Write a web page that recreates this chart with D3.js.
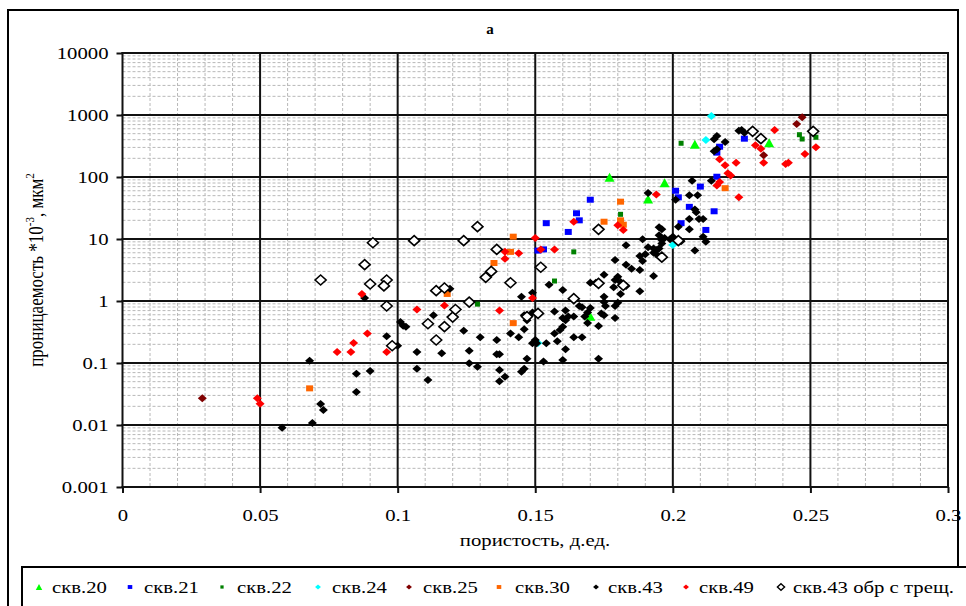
<!DOCTYPE html>
<html>
<head>
<meta charset="utf-8">
<script src="https://cdn.jsdelivr.net/npm/d3@7"></script>
<style>
  body { margin: 0; background: #fff; }
  svg { display: block; font-family: "Liberation Serif", "Times New Roman", serif; }
</style>
</head>
<body>
<svg id="chart" width="966" height="606"></svg>
<script>
// ---- axis ticks ----
const porosityTicks = [0, 0.05, 0.1, 0.15, 0.2, 0.25, 0.3];
const porosityTickLabels = ["0", "0.05", "0.1", "0.15", "0.2", "0.25", "0.3"];
const permTicks = [0.001, 0.01, 0.1, 1, 10, 100, 1000, 10000];
const permTickLabels = ["0.001", "0.01", "0.1", "1", "10", "100", "1000", "10000"];

// ---- wells: [porosity, permeability] ----
const skv20 = [[0.177, 99], [0.197, 81], [0.191, 44], [0.208, 337], [0.235, 357], [0.170, 0.57]];

const skv21 = [[0.170, 43], [0.165, 26], [0.166, 20], [0.154, 18], [0.162, 13], [0.151, 6.5], [0.153, 6.8],
  [0.201, 60], [0.202, 47], [0.203, 18], [0.210, 70], [0.206, 33], [0.215, 28], [0.212, 14],
  [0.226, 415], [0.217, 308], [0.216, 247], [0.216, 101]];

const skv22 = [[0.203, 350], [0.181, 25], [0.164, 6.2], [0.157, 2.1], [0.129, 0.89],
  [0.246, 481], [0.247, 410], [0.252, 437]];

const skv24 = [[0.214, 964], [0.212, 395], [0.200, 8.0], [0.151, 0.21]];

const skv25 = [[0.029, 0.027], [0.247, 918], [0.245, 716], [0.233, 224]];

const skv30 = [[0.135, 4.1], [0.118, 1.3], [0.068, 0.039], [0.181, 40], [0.175, 19], [0.181, 20],
  [0.182, 17], [0.142, 10.9], [0.141, 6.2], [0.142, 0.44], [0.219, 66]];

const skv43 = [
  [0.058, 0.0090], [0.068, 0.109], [0.069, 0.0108], [0.072, 0.0218], [0.073, 0.0175],
  [0.085, 0.067], [0.085, 0.034], [0.090, 0.074], [0.088, 1.12],
  [0.096, 0.27], [0.100, 0.19], [0.101, 0.46], [0.102, 0.40], [0.103, 0.385],
  [0.107, 0.150], [0.107, 0.081], [0.111, 0.053], [0.113, 0.59], [0.116, 0.143],
  [0.119, 1.58], [0.124, 0.33], [0.126, 0.158], [0.126, 0.099], [0.129, 0.087],
  [0.130, 0.26], [0.136, 0.235], [0.136, 0.138], [0.137, 0.138], [0.137, 0.077], [0.137, 0.051], [0.139, 0.060],
  [0.141, 0.30], [0.144, 0.26], [0.146, 0.35], [0.147, 0.49], [0.145, 1.17], [0.149, 1.36],
  [0.149, 0.65], [0.146, 0.59],
  [0.150, 0.235], [0.149, 0.208], [0.1505, 0.208], [0.154, 0.208], [0.158, 0.224], [0.157, 0.30],
  [0.159, 0.34], [0.160, 0.385], [0.161, 0.49],
  [0.147, 0.117], [0.153, 0.106], [0.160, 0.112], [0.161, 0.166], [0.146, 0.081], [0.145, 0.072],
  [0.173, 0.117],
  [0.155, 1.83], [0.160, 1.50], [0.157, 0.68], [0.161, 0.70], [0.160, 0.53], [0.162, 0.56], [0.164, 0.56],
  [0.164, 0.26], [0.167, 0.26],
  [0.166, 0.83], [0.167, 0.79], [0.170, 0.77], [0.169, 0.65], [0.168, 0.56], [0.169, 0.44], [0.173, 0.395],
  [0.170, 1.97], [0.172, 1.97],
  [0.174, 0.63], [0.175, 0.59], [0.175, 0.96], [0.1755, 0.83], [0.179, 0.83], [0.179, 0.53], [0.180, 0.94],
  [0.175, 1.17], [0.175, 2.66],
  [0.179, 4.6], [0.180, 2.47], [0.179, 2.18], [0.1785, 1.66], [0.181, 1.30], [0.181, 2.03], [0.183, 1.75],
  [0.183, 7.9], [0.183, 3.85], [0.185, 3.32],
  [0.188, 5.3], [0.190, 5.7], [0.189, 4.4], [0.188, 3.16], [0.188, 1.43],
  [0.189, 9.9], [0.191, 7.35], [0.193, 7.0], [0.194, 6.65], [0.195, 7.0], [0.193, 6.0], [0.194, 5.7], [0.193, 2.53],
  [0.195, 11.5], [0.196, 9.6], [0.197, 10.4], [0.199, 9.9], [0.195, 15.4], [0.196, 14.3], [0.200, 10.9], [0.196, 8.5],
  [0.191, 55], [0.201, 43],
  [0.207, 87], [0.206, 51], [0.209, 51], [0.208, 30], [0.2085, 27], [0.206, 21], [0.2095, 21], [0.211, 21],
  [0.202, 15.8], [0.206, 14.3], [0.211, 10.9], [0.212, 9.0], [0.208, 6.5], [0.203, 9.2],
  [0.214, 87],
  [0.224, 558], [0.225, 572], [0.226, 518], [0.216, 459], [0.215, 405], [0.219, 367], [0.216, 280], [0.215, 260]
];

const skv49 = [[0.049, 0.027], [0.050, 0.022], [0.087, 1.3], [0.089, 0.30], [0.084, 0.21], [0.078, 0.15],
  [0.083, 0.15], [0.096, 0.15], [0.107, 0.73], [0.117, 0.85], [0.137, 0.70], [0.149, 1.12],
  [0.150, 10.4], [0.139, 6.2], [0.139, 4.8], [0.144, 5.9], [0.152, 6.8], [0.157, 6.8], [0.164, 19],
  [0.180, 16.6], [0.182, 14], [0.194, 52], [0.237, 573], [0.230, 325], [0.232, 286], [0.233, 170],
  [0.252, 301], [0.248, 235], [0.242, 170], [0.241, 162], [0.217, 193], [0.219, 154], [0.223, 170],
  [0.220, 115], [0.221, 106], [0.217, 83], [0.216, 73], [0.224, 47]];

const skv43frac = [[0.072, 2.18], [0.088, 3.85], [0.091, 8.7], [0.090, 1.88], [0.096, 2.18], [0.095, 1.75],
  [0.096, 0.83], [0.098, 0.19], [0.106, 9.4], [0.111, 0.43], [0.114, 0.235], [0.114, 1.47], [0.117, 1.62],
  [0.117, 0.385], [0.120, 0.55], [0.121, 0.73], [0.124, 9.4], [0.126, 0.96], [0.129, 15.8], [0.132, 2.41],
  [0.134, 3.0], [0.136, 6.8], [0.141, 1.97], [0.152, 3.5], [0.151, 0.63], [0.147, 0.56], [0.164, 1.09],
  [0.173, 14.3], [0.173, 1.93], [0.182, 1.79], [0.196, 5.1], [0.202, 9.4], [0.229, 546], [0.232, 415],
  [0.251, 546]];

// ---- series appearance (drawn in this order) ----
const series = [
  { label: "скв.20", data: skv20, shape: "triangle", fill: "#00ff00", w: 10, h: 9 },
  { label: "скв.21", data: skv21, shape: "square", fill: "#0000ff", w: 7, h: 6 },
  { label: "скв.22", data: skv22, shape: "square", fill: "#008000", w: 5, h: 5 },
  { label: "скв.24", data: skv24, shape: "diamond", fill: "#00ffff", w: 9, h: 8 },
  { label: "скв.25", data: skv25, shape: "diamond", fill: "#800000", w: 9, h: 8 },
  { label: "скв.30", data: skv30, shape: "square", fill: "#ff6600", w: 7, h: 6 },
  { label: "скв.43", data: skv43, shape: "diamond", fill: "#000000", w: 9, h: 8 },
  { label: "скв.49", data: skv49, shape: "diamond", fill: "#ff0000", w: 9, h: 8 },
  { label: "скв.43 обр с трещ.", data: skv43frac, shape: "diamond", fill: "#ffffff", stroke: "#000", sw: 1.6, w: 11, h: 10 }
];

const legendPos = [
  { mx: 39, tx: 52 }, { mx: 130, tx: 144 }, { mx: 222, tx: 237 }, { mx: 318, tx: 332 },
  { mx: 409, tx: 423 }, { mx: 499, tx: 515 }, { mx: 596, tx: 608 }, { mx: 686, tx: 699 }, { mx: 781, tx: 793 }
];

const markerPath = {
  triangle: (w, h) => `M0,${-h / 2}L${w / 2},${h / 2}L${-w / 2},${h / 2}Z`,
  square: (w, h) => `M${-w / 2},${-h / 2}h${w}v${h}h${-w}Z`,
  diamond: (w, h) => `M0,${-h / 2}L${w / 2},0L0,${h / 2}L${-w / 2},0Z`
};

const SX = 1.22;          // horizontal stretch of the lettering
const FONT = 17;

const svg = d3.select("#chart");
const plot = { left: 122.5, right: 948, top: 53, bottom: 487 };

const x = d3.scaleLinear().domain([0, 0.3]).range([plot.left, plot.right]);
const y = d3.scaleLog().domain([0.001, 10000]).range([plot.bottom, plot.top]);

// chart frame
svg.append("rect").attr("x", 8).attr("y", 10).attr("width", 950).attr("height", 640)
  .attr("fill", "#fff").attr("stroke", "#000").attr("stroke-width", 2);

// title
svg.append("text").attr("x", 490).attr("y", 34).attr("text-anchor", "middle")
  .attr("font-size", 15).attr("font-weight", "bold").text("а");

// plot background
svg.append("rect").attr("x", plot.left).attr("y", plot.top)
  .attr("width", plot.right - plot.left).attr("height", plot.bottom - plot.top).attr("fill", "#fff");

const grid = svg.append("g");

// minor grid: every 0.01 on porosity, 2..9 within each decade of permeability
const minorX = d3.range(1, 30).map(i => i / 100).filter(v => Math.round(v * 100) % 5 !== 0);
const minorY = [];
for (let e = -3; e < 4; e++) for (let k = 2; k <= 9; k++) minorY.push(k * Math.pow(10, e));

grid.selectAll(".mx").data(minorX).join("line")
  .attr("x1", d => x(d)).attr("x2", d => x(d)).attr("y1", plot.top).attr("y2", plot.bottom)
  .attr("stroke", "#b8b8b8").attr("stroke-width", 1).attr("stroke-dasharray", "3,2");
grid.selectAll(".my").data(minorY).join("line")
  .attr("x1", plot.left).attr("x2", plot.right).attr("y1", d => y(d)).attr("y2", d => y(d))
  .attr("stroke", "#b8b8b8").attr("stroke-width", 1).attr("stroke-dasharray", "3,2");

// major grid
grid.selectAll(".Mx").data(porosityTicks).join("line")
  .attr("x1", d => x(d)).attr("x2", d => x(d)).attr("y1", plot.top - 1).attr("y2", plot.bottom + 1)
  .attr("stroke", "#111").attr("stroke-width", 2);
grid.selectAll(".My").data(permTicks).join("line")
  .attr("x1", plot.left - 1).attr("x2", plot.right + 1).attr("y1", d => y(d)).attr("y2", d => y(d))
  .attr("stroke", "#111").attr("stroke-width", 2);

// axes
const yAxis = svg.append("g").attr("transform", `translate(${plot.left},0)`)
  .call(d3.axisLeft(y).tickValues(permTicks).tickFormat((d, i) => permTickLabels[i]).tickSize(6).tickPadding(0));
yAxis.select(".domain").remove();
yAxis.selectAll("line").attr("stroke", "#111").attr("stroke-width", 2);
yAxis.selectAll("text").attr("font-size", FONT).attr("font-family", "Liberation Serif")
  .attr("fill", "#000").attr("x", -14 / SX).attr("transform", `scale(${SX},1)`);

const xAxis = svg.append("g").attr("transform", `translate(0,${plot.bottom})`)
  .call(d3.axisBottom(x).tickValues(porosityTicks).tickFormat((d, i) => porosityTickLabels[i]).tickSize(6));
xAxis.select(".domain").remove();
xAxis.selectAll("line").attr("stroke", "#111").attr("stroke-width", 2);
xAxis.selectAll("text").attr("font-size", FONT).attr("font-family", "Liberation Serif")
  .attr("fill", "#000").attr("y", 22).attr("transform", `scale(${SX},1)`);

// axis titles
svg.append("text").attr("transform", `translate(535,546) scale(${SX},1)`)
  .attr("text-anchor", "middle").attr("font-size", FONT).text("пористость, д.ед.");

const yl = svg.append("text").attr("transform", `translate(43,270) rotate(-90) scale(1,${SX})`)
  .attr("text-anchor", "middle").attr("font-size", FONT);
yl.append("tspan").text("проницаемость *10");
yl.append("tspan").attr("font-size", 11).attr("dy", -7).text("-3");
yl.append("tspan").attr("dy", 7).text(", мкм");
yl.append("tspan").attr("font-size", 11).attr("dy", -7).text("2");

// markers
const marks = svg.append("g");
series.forEach(s => {
  marks.append("g").selectAll("path").data(s.data).join("path")
    .attr("d", markerPath[s.shape](s.w, s.h))
    .attr("transform", d => `translate(${x(d[0])},${y(d[1])})`)
    .attr("fill", s.fill)
    .attr("stroke", s.stroke || "none")
    .attr("stroke-width", s.sw || 0);
});

// legend
svg.append("rect").attr("x", 22).attr("y", 567).attr("width", 980).attr("height", 80)
  .attr("fill", "#fff").attr("stroke", "#000").attr("stroke-width", 2);
const lg = svg.append("g");
series.forEach((s, i) => {
  const p = legendPos[i];
  lg.append("path").attr("d", markerPath[s.shape](s.w * 0.65, s.h * 0.65))
    .attr("transform", `translate(${p.mx},587)`)
    .attr("fill", s.fill).attr("stroke", s.stroke || "none").attr("stroke-width", s.sw ? 1.4 : 0);
  lg.append("text").attr("transform", `translate(${p.tx},593) scale(${SX},1)`)
    .attr("font-size", FONT).text(s.label);
});
</script>
</body>
</html>
